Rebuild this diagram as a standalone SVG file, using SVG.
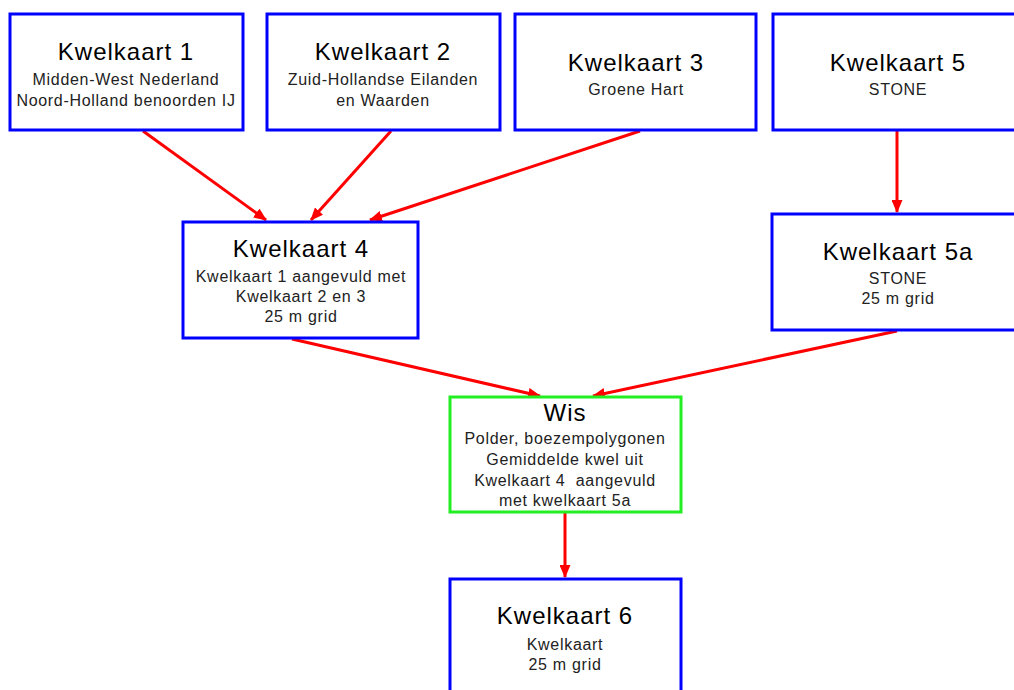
<svg xmlns="http://www.w3.org/2000/svg" width="1014" height="690" viewBox="0 0 1014 690">
  <style>
    .box { fill: #ffffff; stroke: #0000ff; stroke-width: 3; }
    .wis { fill: #ffffff; stroke: #22ee22; stroke-width: 3; }
    .title { font-family: "Liberation Sans", Arial, sans-serif; font-size: 24px; letter-spacing: 1px; fill: #000000; text-anchor: middle; }
    .sub { font-family: "Liberation Sans", Arial, sans-serif; font-size: 16px; letter-spacing: 0.7px; fill: #222222; text-anchor: middle; }
    .arrow { stroke: #ff0000; stroke-width: 3; fill: none; marker-end: url(#head); }
  </style>
  <defs>
    <marker id="head" viewBox="0 0 13 11" refX="12" refY="5.5" markerWidth="13" markerHeight="11" markerUnits="userSpaceOnUse" orient="auto">
      <path d="M0,0 L13,5.5 L0,11 Z" fill="#ff0000"/>
    </marker>
  </defs>
  <rect width="1014" height="690" fill="#ffffff"/>

  <g id="connectors">
    <line class="arrow" x1="143" y1="131" x2="266" y2="220"/>
    <line class="arrow" x1="391" y1="131" x2="311" y2="220"/>
    <line class="arrow" x1="640" y1="131" x2="370" y2="220"/>
    <line class="arrow" x1="897" y1="131" x2="897" y2="212"/>
    <line class="arrow" x1="292" y1="339" x2="540" y2="396"/>
    <line class="arrow" x1="897" y1="331" x2="593" y2="396"/>
    <line class="arrow" x1="565" y1="513" x2="565" y2="577"/>
  </g>

  <g id="kwelkaart1">
    <rect class="box" x="10" y="14" width="233" height="116"/>
    <text class="title" x="126" y="60">Kwelkaart 1</text>
    <text class="sub" x="126" y="85">Midden-West Nederland</text>
    <text class="sub" x="126" y="106">Noord-Holland benoorden IJ</text>
  </g>

  <g id="kwelkaart2">
    <rect class="box" x="267" y="14" width="233" height="116"/>
    <text class="title" x="383" y="60">Kwelkaart 2</text>
    <text class="sub" x="383" y="85">Zuid-Hollandse Eilanden</text>
    <text class="sub" x="383" y="106">en Waarden</text>
  </g>

  <g id="kwelkaart3">
    <rect class="box" x="515" y="14" width="241" height="116"/>
    <text class="title" x="636" y="71">Kwelkaart 3</text>
    <text class="sub" x="636" y="95">Groene Hart</text>
  </g>

  <g id="kwelkaart5">
    <rect class="box" x="773" y="14" width="250" height="116"/>
    <text class="title" x="898" y="71">Kwelkaart 5</text>
    <text class="sub" x="898" y="95">STONE</text>
  </g>

  <g id="kwelkaart4">
    <rect class="box" x="183" y="222" width="235" height="116"/>
    <text class="title" x="301" y="257">Kwelkaart 4</text>
    <text class="sub" x="301" y="282">Kwelkaart 1 aangevuld met</text>
    <text class="sub" x="301" y="302">Kwelkaart 2 en 3</text>
    <text class="sub" x="301" y="322">25 m grid</text>
  </g>

  <g id="kwelkaart5a">
    <rect class="box" x="772" y="214" width="251" height="116"/>
    <text class="title" x="898" y="260">Kwelkaart 5a</text>
    <text class="sub" x="898" y="284">STONE</text>
    <text class="sub" x="898" y="304">25 m grid</text>
  </g>

  <g id="wis">
    <rect class="wis" x="450" y="397" width="231" height="115"/>
    <text class="title" x="565" y="421">Wis</text>
    <text class="sub" x="565" y="444">Polder, boezempolygonen</text>
    <text class="sub" x="565" y="465">Gemiddelde kwel uit</text>
    <text class="sub" x="565" y="486" style="white-space:pre">Kwelkaart 4  aangevuld</text>
    <text class="sub" x="565" y="506">met kwelkaart 5a</text>
  </g>

  <g id="kwelkaart6">
    <rect class="box" x="450" y="579" width="231" height="120"/>
    <text class="title" x="565" y="624">Kwelkaart 6</text>
    <text class="sub" x="565" y="650">Kwelkaart</text>
    <text class="sub" x="565" y="670">25 m grid</text>
  </g>
</svg>
